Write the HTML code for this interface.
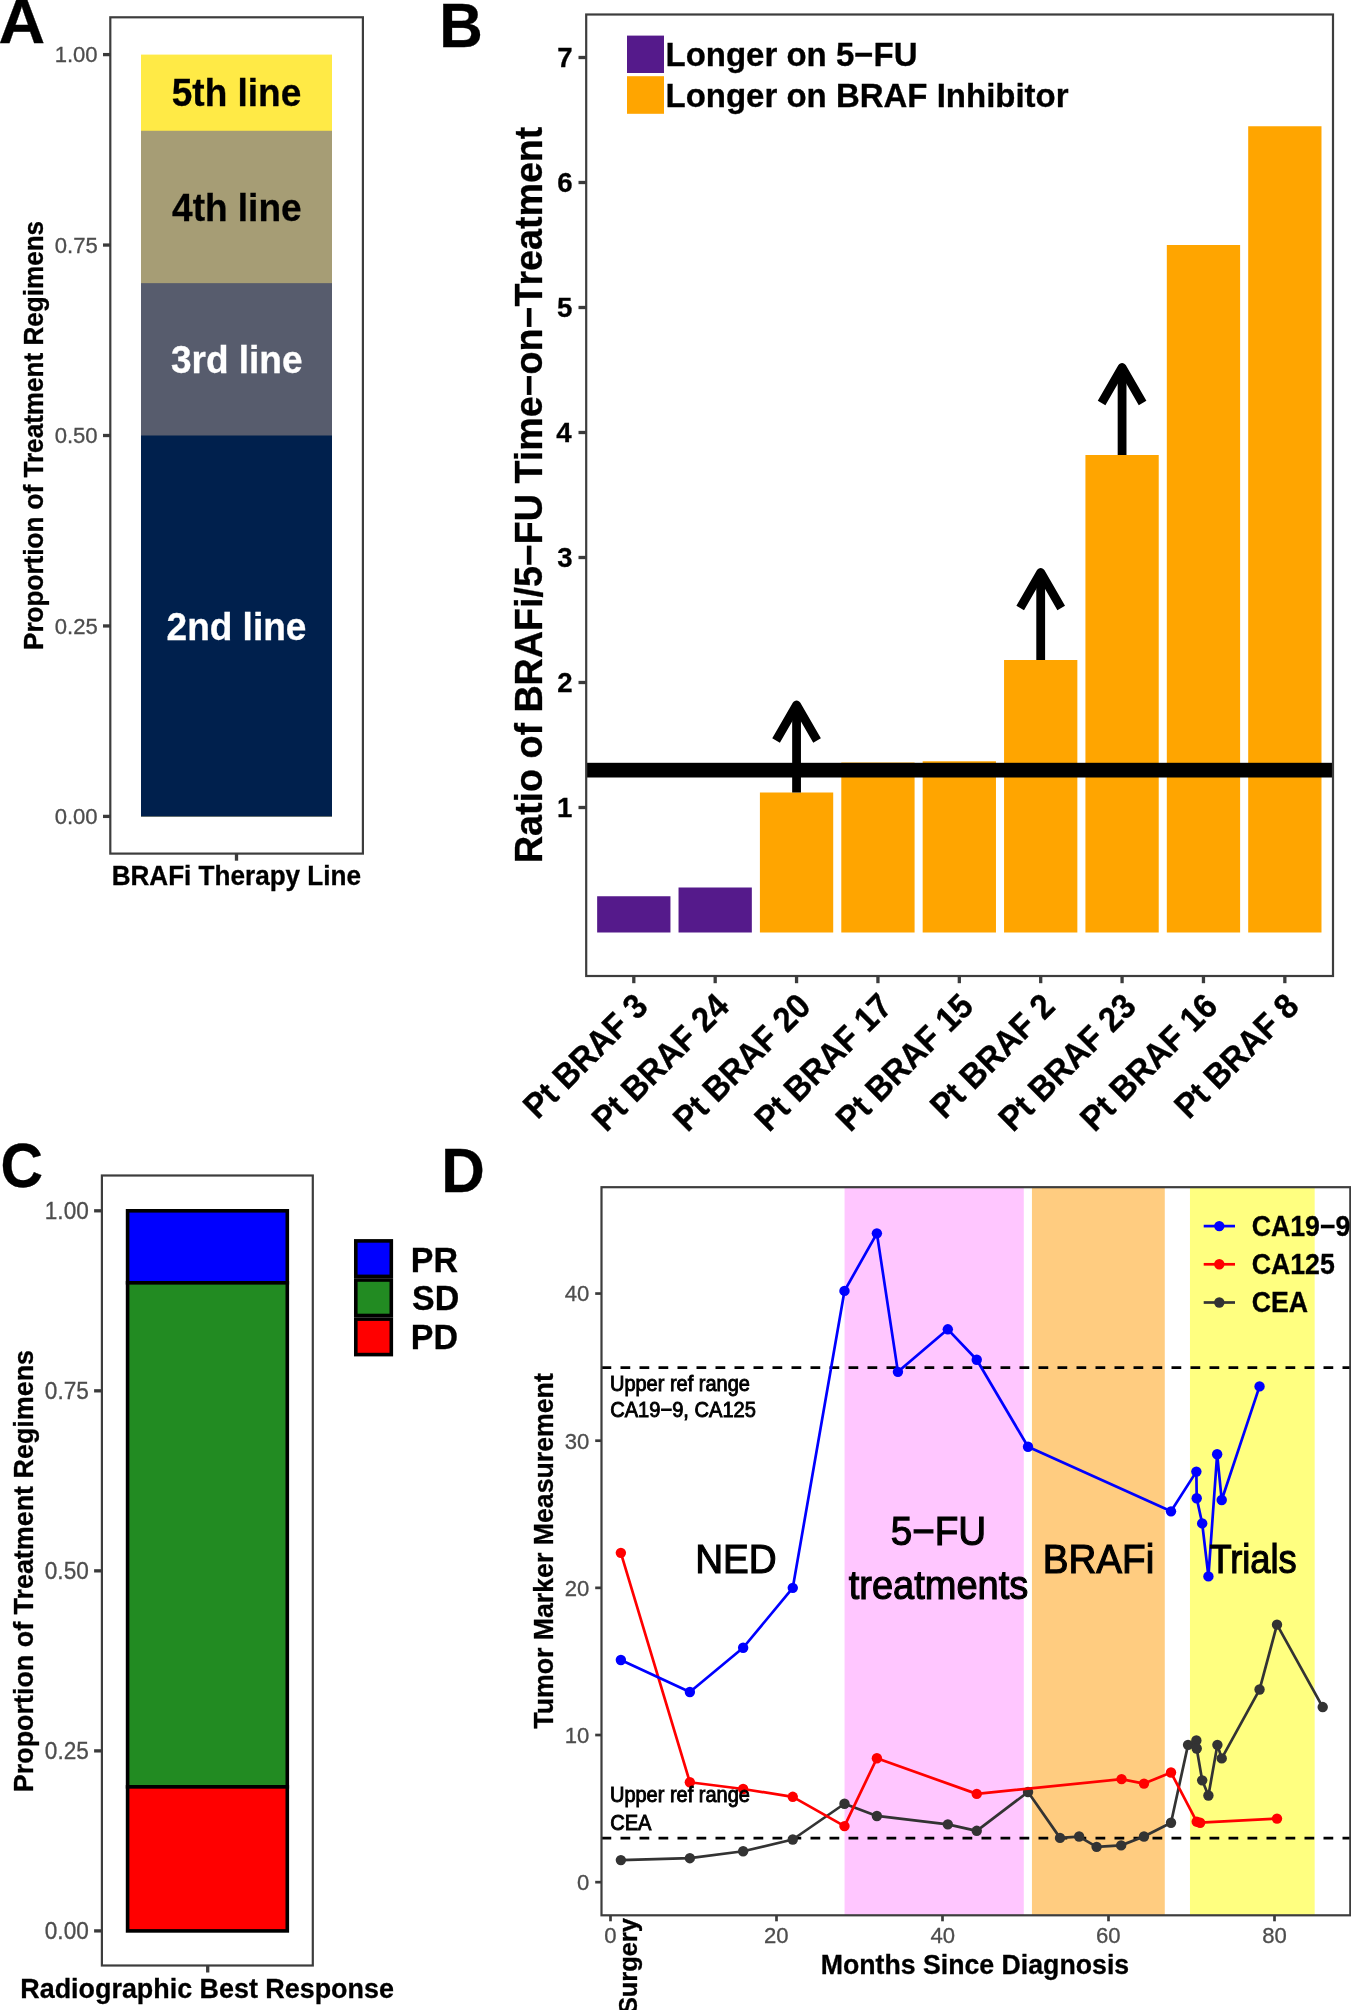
<!DOCTYPE html>
<html><head><meta charset="utf-8"><style>
html,body{margin:0;padding:0;background:#fff;width:1351px;height:2010px;overflow:hidden}
svg{display:block;font-family:"Liberation Sans",sans-serif;will-change:transform}
</style></head><body>
<svg width="1351" height="2010" viewBox="0 0 1351 2010">
<rect x="0" y="0" width="1351" height="2010" fill="#fff"/>
<text transform="translate(-1.61,42.90) scale(1.0700,1.0460)" font-size="60.30" font-weight="bold" text-anchor="start" fill="#000" stroke="#000" stroke-width="0.3">A</text>
<rect x="141.00" y="54.60" width="191.00" height="761.80" fill="#FFEA46"/>
<rect x="141.00" y="130.78" width="191.00" height="685.62" fill="#A69D75"/>
<rect x="141.00" y="283.14" width="191.00" height="533.26" fill="#575C6D"/>
<rect x="141.00" y="435.50" width="191.00" height="380.90" fill="#00204D"/>
<rect x="110.3" y="17.3" width="252.6" height="836.3" fill="none" stroke="#3d3d3d" stroke-width="2.20"/>
<line x1="103.00" y1="816.40" x2="110.30" y2="816.40" stroke="#3b3b3b" stroke-width="3.30"/>
<text transform="translate(54.65,824.25) scale(1.0000,1.0400)" font-size="22.10" text-anchor="start" fill="#4D4D4D" stroke="#4D4D4D" stroke-width="0.3">0.00</text>
<line x1="103.00" y1="625.95" x2="110.30" y2="625.95" stroke="#3b3b3b" stroke-width="3.30"/>
<text transform="translate(54.72,633.80) scale(1.0000,1.0400)" font-size="22.10" text-anchor="start" fill="#4D4D4D" stroke="#4D4D4D" stroke-width="0.3">0.25</text>
<line x1="103.00" y1="435.50" x2="110.30" y2="435.50" stroke="#3b3b3b" stroke-width="3.30"/>
<text transform="translate(54.65,443.35) scale(1.0000,1.0400)" font-size="22.10" text-anchor="start" fill="#4D4D4D" stroke="#4D4D4D" stroke-width="0.3">0.50</text>
<line x1="103.00" y1="245.05" x2="110.30" y2="245.05" stroke="#3b3b3b" stroke-width="3.30"/>
<text transform="translate(54.72,252.90) scale(1.0000,1.0400)" font-size="22.10" text-anchor="start" fill="#4D4D4D" stroke="#4D4D4D" stroke-width="0.3">0.75</text>
<line x1="103.00" y1="54.60" x2="110.30" y2="54.60" stroke="#3b3b3b" stroke-width="3.30"/>
<text transform="translate(54.65,62.45) scale(1.0000,1.0400)" font-size="22.10" text-anchor="start" fill="#4D4D4D" stroke="#4D4D4D" stroke-width="0.3">1.00</text>
<line x1="236.50" y1="853.60" x2="236.50" y2="860.70" stroke="#3b3b3b" stroke-width="3.30"/>
<text transform="translate(171.80,106.40) scale(1.0000,1.0300)" font-size="37.00" font-weight="bold" text-anchor="start" fill="#000" stroke="#000" stroke-width="0.3">5th line</text>
<text transform="translate(172.09,220.67) scale(1.0000,1.0300)" font-size="37.00" font-weight="bold" text-anchor="start" fill="#000" stroke="#000" stroke-width="0.3">4th line</text>
<text transform="translate(170.91,373.03) scale(1.0000,1.0300)" font-size="37.00" font-weight="bold" text-anchor="start" fill="#fff" stroke="#fff" stroke-width="0.3">3rd line</text>
<text transform="translate(166.59,639.66) scale(1.0000,1.0300)" font-size="37.00" font-weight="bold" text-anchor="start" fill="#fff" stroke="#fff" stroke-width="0.3">2nd line</text>
<text transform="translate(111.66,885.00) scale(1.0000,1.0300)" font-size="26.10" font-weight="bold" text-anchor="start" fill="#000" stroke="#000" stroke-width="0.3">BRAFi Therapy Line</text>
<text transform="translate(43.00,649.98) rotate(-90.00) scale(1.0000,1.0300)" font-size="26.10" font-weight="bold" text-anchor="start" fill="#000" stroke="#000" stroke-width="0.3">Proportion of Treatment Regimens</text>
<text transform="translate(439.37,46.60) scale(1.0000,1.0460)" font-size="60.30" font-weight="bold" text-anchor="start" fill="#000" stroke="#000" stroke-width="0.3">B</text>
<rect x="597.15" y="896.25" width="73.30" height="36.25" fill="#551A8B"/>
<rect x="678.53" y="887.50" width="73.30" height="45.00" fill="#551A8B"/>
<rect x="759.91" y="792.50" width="73.30" height="140.00" fill="#FFA500"/>
<rect x="841.29" y="762.50" width="73.30" height="170.00" fill="#FFA500"/>
<rect x="922.67" y="761.25" width="73.30" height="171.25" fill="#FFA500"/>
<rect x="1004.05" y="660.00" width="73.30" height="272.50" fill="#FFA500"/>
<rect x="1085.43" y="455.00" width="73.30" height="477.50" fill="#FFA500"/>
<rect x="1166.81" y="245.00" width="73.30" height="687.50" fill="#FFA500"/>
<rect x="1248.19" y="126.25" width="73.30" height="806.25" fill="#FFA500"/>
<rect x="587.00" y="762.80" width="745.50" height="14.70" fill="#000"/>
<path d="M796.56 792.50 L796.56 705.00" stroke="#000" stroke-width="8.8" fill="none"/>
<path d="M776.06 740.51 L796.56 705.00 L817.06 740.51" stroke="#000" stroke-width="8.8" fill="none" stroke-linejoin="round" stroke-linecap="butt"/>
<path d="M1040.70 660.00 L1040.70 572.50" stroke="#000" stroke-width="8.8" fill="none"/>
<path d="M1020.20 608.01 L1040.70 572.50 L1061.20 608.01" stroke="#000" stroke-width="8.8" fill="none" stroke-linejoin="round" stroke-linecap="butt"/>
<path d="M1122.08 455.00 L1122.08 367.50" stroke="#000" stroke-width="8.8" fill="none"/>
<path d="M1101.58 403.01 L1122.08 367.50 L1142.58 403.01" stroke="#000" stroke-width="8.8" fill="none" stroke-linejoin="round" stroke-linecap="butt"/>
<rect x="586.2" y="14.5" width="746.8" height="961.5" fill="none" stroke="#3d3d3d" stroke-width="2.20"/>
<line x1="578.50" y1="807.50" x2="586.30" y2="807.50" stroke="#3b3b3b" stroke-width="3.30"/>
<text transform="translate(556.92,817.10) scale(1.0000,1.0300)" font-size="27.60" font-weight="bold" text-anchor="start" fill="#000" stroke="#000" stroke-width="0.3">1</text>
<line x1="578.50" y1="682.50" x2="586.30" y2="682.50" stroke="#3b3b3b" stroke-width="3.30"/>
<text transform="translate(557.26,692.10) scale(1.0000,1.0300)" font-size="27.60" font-weight="bold" text-anchor="start" fill="#000" stroke="#000" stroke-width="0.3">2</text>
<line x1="578.50" y1="557.50" x2="586.30" y2="557.50" stroke="#3b3b3b" stroke-width="3.30"/>
<text transform="translate(557.15,567.10) scale(1.0000,1.0300)" font-size="27.60" font-weight="bold" text-anchor="start" fill="#000" stroke="#000" stroke-width="0.3">3</text>
<line x1="578.50" y1="432.50" x2="586.30" y2="432.50" stroke="#3b3b3b" stroke-width="3.30"/>
<text transform="translate(556.30,442.10) scale(1.0000,1.0300)" font-size="27.60" font-weight="bold" text-anchor="start" fill="#000" stroke="#000" stroke-width="0.3">4</text>
<line x1="578.50" y1="307.50" x2="586.30" y2="307.50" stroke="#3b3b3b" stroke-width="3.30"/>
<text transform="translate(556.92,317.10) scale(1.0000,1.0300)" font-size="27.60" font-weight="bold" text-anchor="start" fill="#000" stroke="#000" stroke-width="0.3">5</text>
<line x1="578.50" y1="182.50" x2="586.30" y2="182.50" stroke="#3b3b3b" stroke-width="3.30"/>
<text transform="translate(557.15,192.10) scale(1.0000,1.0300)" font-size="27.60" font-weight="bold" text-anchor="start" fill="#000" stroke="#000" stroke-width="0.3">6</text>
<line x1="578.50" y1="57.50" x2="586.30" y2="57.50" stroke="#3b3b3b" stroke-width="3.30"/>
<text transform="translate(557.36,67.10) scale(1.0000,1.0300)" font-size="27.60" font-weight="bold" text-anchor="start" fill="#000" stroke="#000" stroke-width="0.3">7</text>
<line x1="633.80" y1="976.00" x2="633.80" y2="983.20" stroke="#3b3b3b" stroke-width="3.30"/>
<line x1="715.18" y1="976.00" x2="715.18" y2="983.20" stroke="#3b3b3b" stroke-width="3.30"/>
<line x1="796.56" y1="976.00" x2="796.56" y2="983.20" stroke="#3b3b3b" stroke-width="3.30"/>
<line x1="877.94" y1="976.00" x2="877.94" y2="983.20" stroke="#3b3b3b" stroke-width="3.30"/>
<line x1="959.32" y1="976.00" x2="959.32" y2="983.20" stroke="#3b3b3b" stroke-width="3.30"/>
<line x1="1040.70" y1="976.00" x2="1040.70" y2="983.20" stroke="#3b3b3b" stroke-width="3.30"/>
<line x1="1122.08" y1="976.00" x2="1122.08" y2="983.20" stroke="#3b3b3b" stroke-width="3.30"/>
<line x1="1203.46" y1="976.00" x2="1203.46" y2="983.20" stroke="#3b3b3b" stroke-width="3.30"/>
<line x1="1284.84" y1="976.00" x2="1284.84" y2="983.20" stroke="#3b3b3b" stroke-width="3.30"/>
<rect x="627.00" y="35.60" width="37.00" height="37.40" fill="#551A8B"/>
<rect x="627.00" y="76.20" width="37.00" height="37.60" fill="#FFA500"/>
<text transform="translate(665.49,66.30) scale(1.0000,1.0300)" font-size="33.00" font-weight="bold" text-anchor="start" fill="#000" stroke="#000" stroke-width="0.3">Longer on 5−FU</text>
<text transform="translate(665.49,106.50) scale(1.0000,1.0300)" font-size="33.00" font-weight="bold" text-anchor="start" fill="#000" stroke="#000" stroke-width="0.3">Longer on BRAF Inhibitor</text>
<text transform="translate(541.70,863.08) rotate(-90.00) scale(1.0000,1.0300)" font-size="37.65" font-weight="bold" text-anchor="start" fill="#000" stroke="#000" stroke-width="0.3">Ratio of BRAFi/5−FU Time−on−Treatment</text>
<text transform="translate(649.75,1008.15) rotate(-45) scale(1,1.070)" font-size="32.45" font-weight="bold" text-anchor="end" fill="#000" stroke="#000" stroke-width="0.35">Pt BRAF 3</text>
<text transform="translate(731.13,1008.15) rotate(-45) scale(1,1.070)" font-size="32.45" font-weight="bold" text-anchor="end" fill="#000" stroke="#000" stroke-width="0.35">Pt BRAF 24</text>
<text transform="translate(812.51,1008.15) rotate(-45) scale(1,1.070)" font-size="32.45" font-weight="bold" text-anchor="end" fill="#000" stroke="#000" stroke-width="0.35">Pt BRAF 20</text>
<text transform="translate(893.89,1008.15) rotate(-45) scale(1,1.070)" font-size="32.45" font-weight="bold" text-anchor="end" fill="#000" stroke="#000" stroke-width="0.35">Pt BRAF 17</text>
<text transform="translate(975.27,1008.15) rotate(-45) scale(1,1.070)" font-size="32.45" font-weight="bold" text-anchor="end" fill="#000" stroke="#000" stroke-width="0.35">Pt BRAF 15</text>
<text transform="translate(1056.65,1008.15) rotate(-45) scale(1,1.070)" font-size="32.45" font-weight="bold" text-anchor="end" fill="#000" stroke="#000" stroke-width="0.35">Pt BRAF 2</text>
<text transform="translate(1138.03,1008.15) rotate(-45) scale(1,1.070)" font-size="32.45" font-weight="bold" text-anchor="end" fill="#000" stroke="#000" stroke-width="0.35">Pt BRAF 23</text>
<text transform="translate(1219.41,1008.15) rotate(-45) scale(1,1.070)" font-size="32.45" font-weight="bold" text-anchor="end" fill="#000" stroke="#000" stroke-width="0.35">Pt BRAF 16</text>
<text transform="translate(1300.79,1008.15) rotate(-45) scale(1,1.070)" font-size="32.45" font-weight="bold" text-anchor="end" fill="#000" stroke="#000" stroke-width="0.35">Pt BRAF 8</text>
<text transform="translate(0.44,1186.90) scale(0.9750,1.0460)" font-size="60.30" font-weight="bold" text-anchor="start" fill="#000" stroke="#000" stroke-width="0.3">C</text>
<rect x="101.9" y="1175.5" width="210.9" height="790.0" fill="none" stroke="#3d3d3d" stroke-width="2.20"/>
<rect x="127.60" y="1210.80" width="159.70" height="72.01" fill="#0000FF" stroke="#000" stroke-width="3.60"/>
<rect x="127.60" y="1282.81" width="159.70" height="504.07" fill="#228B22" stroke="#000" stroke-width="3.60"/>
<rect x="127.60" y="1786.88" width="159.70" height="144.02" fill="#FF0000" stroke="#000" stroke-width="3.60"/>
<line x1="94.10" y1="1930.90" x2="101.90" y2="1930.90" stroke="#3b3b3b" stroke-width="3.30"/>
<text transform="translate(44.80,1938.85) scale(1.0000,1.0400)" font-size="22.60" text-anchor="start" fill="#4D4D4D" stroke="#4D4D4D" stroke-width="0.3">0.00</text>
<line x1="94.10" y1="1750.88" x2="101.90" y2="1750.88" stroke="#3b3b3b" stroke-width="3.30"/>
<text transform="translate(44.86,1758.83) scale(1.0000,1.0400)" font-size="22.60" text-anchor="start" fill="#4D4D4D" stroke="#4D4D4D" stroke-width="0.3">0.25</text>
<line x1="94.10" y1="1570.85" x2="101.90" y2="1570.85" stroke="#3b3b3b" stroke-width="3.30"/>
<text transform="translate(44.80,1578.80) scale(1.0000,1.0400)" font-size="22.60" text-anchor="start" fill="#4D4D4D" stroke="#4D4D4D" stroke-width="0.3">0.50</text>
<line x1="94.10" y1="1390.83" x2="101.90" y2="1390.83" stroke="#3b3b3b" stroke-width="3.30"/>
<text transform="translate(44.86,1398.78) scale(1.0000,1.0400)" font-size="22.60" text-anchor="start" fill="#4D4D4D" stroke="#4D4D4D" stroke-width="0.3">0.75</text>
<line x1="94.10" y1="1210.80" x2="101.90" y2="1210.80" stroke="#3b3b3b" stroke-width="3.30"/>
<text transform="translate(44.80,1218.75) scale(1.0000,1.0400)" font-size="22.60" text-anchor="start" fill="#4D4D4D" stroke="#4D4D4D" stroke-width="0.3">1.00</text>
<line x1="207.70" y1="1965.50" x2="207.70" y2="1972.50" stroke="#3b3b3b" stroke-width="3.30"/>
<text transform="translate(20.31,1997.90) scale(1.0000,1.0300)" font-size="26.90" font-weight="bold" text-anchor="start" fill="#000" stroke="#000" stroke-width="0.3">Radiographic Best Response</text>
<text transform="translate(32.90,1792.19) rotate(-90.00) scale(1.0000,1.0300)" font-size="26.90" font-weight="bold" text-anchor="start" fill="#000" stroke="#000" stroke-width="0.3">Proportion of Treatment Regimens</text>
<rect x="355.80" y="1240.90" width="35.50" height="35.50" fill="#0000FF" stroke="#000" stroke-width="3.60"/>
<text transform="translate(410.73,1271.60) scale(1.0000,1.0400)" font-size="34.00" font-weight="bold" text-anchor="start" fill="#000" stroke="#000" stroke-width="0.3">PR</text>
<rect x="355.80" y="1280.00" width="35.50" height="35.50" fill="#228B22" stroke="#000" stroke-width="3.60"/>
<text transform="translate(412.02,1310.10) scale(1.0000,1.0400)" font-size="34.00" font-weight="bold" text-anchor="start" fill="#000" stroke="#000" stroke-width="0.3">SD</text>
<rect x="355.80" y="1319.10" width="35.50" height="35.50" fill="#FF0000" stroke="#000" stroke-width="3.60"/>
<text transform="translate(410.73,1348.60) scale(1.0000,1.0400)" font-size="34.00" font-weight="bold" text-anchor="start" fill="#000" stroke="#000" stroke-width="0.3">PD</text>
<text transform="translate(441.17,1192.20) scale(1.0000,1.0460)" font-size="60.30" font-weight="bold" text-anchor="start" fill="#000" stroke="#000" stroke-width="0.3">D</text>
<rect x="844.56" y="1187.20" width="179.23" height="728.10" fill="#FFC6FF"/>
<rect x="1031.94" y="1187.20" width="132.84" height="728.10" fill="#FFCC80"/>
<rect x="1189.97" y="1187.20" width="124.70" height="728.10" fill="#FFFF80"/>
<line x1="601.50" y1="1367.63" x2="1350.30" y2="1367.63" stroke="#000" stroke-width="2.70" stroke-dasharray="9.75,9.25"/>
<line x1="601.50" y1="1838.12" x2="1350.30" y2="1838.12" stroke="#000" stroke-width="2.70" stroke-dasharray="9.75,9.25"/>
<path d="M620.86 1860.10 L689.86 1858.18 L743.14 1851.27 L792.77 1839.50 L844.48 1803.74 L876.90 1815.95 L947.81 1824.34 L976.74 1830.81 L1028.03 1791.96 L1060.03 1837.88 L1079.15 1836.55 L1096.61 1846.85 L1121.13 1845.38 L1143.99 1836.55 L1171.01 1822.72 L1188.05 1744.87 L1196.37 1740.46 L1196.70 1748.55 L1202.19 1780.34 L1208.42 1795.50 L1217.40 1744.87 L1221.72 1758.41 L1259.55 1689.54 L1277.00 1624.65 L1322.72 1707.06" stroke="#333333" stroke-width="2.7" fill="none" stroke-linejoin="round"/>
<circle cx="620.86" cy="1860.10" r="5.2" fill="#333333"/>
<circle cx="689.86" cy="1858.18" r="5.2" fill="#333333"/>
<circle cx="743.14" cy="1851.27" r="5.2" fill="#333333"/>
<circle cx="792.77" cy="1839.50" r="5.2" fill="#333333"/>
<circle cx="844.48" cy="1803.74" r="5.2" fill="#333333"/>
<circle cx="876.90" cy="1815.95" r="5.2" fill="#333333"/>
<circle cx="947.81" cy="1824.34" r="5.2" fill="#333333"/>
<circle cx="976.74" cy="1830.81" r="5.2" fill="#333333"/>
<circle cx="1028.03" cy="1791.96" r="5.2" fill="#333333"/>
<circle cx="1060.03" cy="1837.88" r="5.2" fill="#333333"/>
<circle cx="1079.15" cy="1836.55" r="5.2" fill="#333333"/>
<circle cx="1096.61" cy="1846.85" r="5.2" fill="#333333"/>
<circle cx="1121.13" cy="1845.38" r="5.2" fill="#333333"/>
<circle cx="1143.99" cy="1836.55" r="5.2" fill="#333333"/>
<circle cx="1171.01" cy="1822.72" r="5.2" fill="#333333"/>
<circle cx="1188.05" cy="1744.87" r="5.2" fill="#333333"/>
<circle cx="1196.37" cy="1740.46" r="5.2" fill="#333333"/>
<circle cx="1196.70" cy="1748.55" r="5.2" fill="#333333"/>
<circle cx="1202.19" cy="1780.34" r="5.2" fill="#333333"/>
<circle cx="1208.42" cy="1795.50" r="5.2" fill="#333333"/>
<circle cx="1217.40" cy="1744.87" r="5.2" fill="#333333"/>
<circle cx="1221.72" cy="1758.41" r="5.2" fill="#333333"/>
<circle cx="1259.55" cy="1689.54" r="5.2" fill="#333333"/>
<circle cx="1277.00" cy="1624.65" r="5.2" fill="#333333"/>
<circle cx="1322.72" cy="1707.06" r="5.2" fill="#333333"/>
<path d="M620.86 1552.84 L689.86 1782.25 L743.14 1789.02 L792.77 1796.82 L844.48 1826.10 L876.90 1758.27 L976.74 1793.88 L1121.55 1779.16 L1143.99 1783.58 L1171.01 1772.54 L1196.70 1821.69 L1200.11 1822.72 L1277.00 1818.60" stroke="#FF0000" stroke-width="2.7" fill="none" stroke-linejoin="round"/>
<circle cx="620.86" cy="1552.84" r="5.2" fill="#FF0000"/>
<circle cx="689.86" cy="1782.25" r="5.2" fill="#FF0000"/>
<circle cx="743.14" cy="1789.02" r="5.2" fill="#FF0000"/>
<circle cx="792.77" cy="1796.82" r="5.2" fill="#FF0000"/>
<circle cx="844.48" cy="1826.10" r="5.2" fill="#FF0000"/>
<circle cx="876.90" cy="1758.27" r="5.2" fill="#FF0000"/>
<circle cx="976.74" cy="1793.88" r="5.2" fill="#FF0000"/>
<circle cx="1121.55" cy="1779.16" r="5.2" fill="#FF0000"/>
<circle cx="1143.99" cy="1783.58" r="5.2" fill="#FF0000"/>
<circle cx="1171.01" cy="1772.54" r="5.2" fill="#FF0000"/>
<circle cx="1196.70" cy="1821.69" r="5.2" fill="#FF0000"/>
<circle cx="1200.11" cy="1822.72" r="5.2" fill="#FF0000"/>
<circle cx="1277.00" cy="1818.60" r="5.2" fill="#FF0000"/>
<path d="M620.86 1659.97 L689.86 1692.05 L743.14 1647.75 L792.77 1587.86 L844.48 1290.90 L876.90 1233.36 L897.93 1371.84 L947.81 1329.31 L976.74 1359.77 L1028.03 1446.74 L1171.01 1511.34 L1196.37 1471.61 L1196.70 1498.24 L1202.19 1523.41 L1208.42 1576.38 L1217.15 1454.24 L1221.72 1500.01 L1259.55 1386.40" stroke="#0000FF" stroke-width="2.7" fill="none" stroke-linejoin="round"/>
<circle cx="620.86" cy="1659.97" r="5.2" fill="#0000FF"/>
<circle cx="689.86" cy="1692.05" r="5.2" fill="#0000FF"/>
<circle cx="743.14" cy="1647.75" r="5.2" fill="#0000FF"/>
<circle cx="792.77" cy="1587.86" r="5.2" fill="#0000FF"/>
<circle cx="844.48" cy="1290.90" r="5.2" fill="#0000FF"/>
<circle cx="876.90" cy="1233.36" r="5.2" fill="#0000FF"/>
<circle cx="897.93" cy="1371.84" r="5.2" fill="#0000FF"/>
<circle cx="947.81" cy="1329.31" r="5.2" fill="#0000FF"/>
<circle cx="976.74" cy="1359.77" r="5.2" fill="#0000FF"/>
<circle cx="1028.03" cy="1446.74" r="5.2" fill="#0000FF"/>
<circle cx="1171.01" cy="1511.34" r="5.2" fill="#0000FF"/>
<circle cx="1196.37" cy="1471.61" r="5.2" fill="#0000FF"/>
<circle cx="1196.70" cy="1498.24" r="5.2" fill="#0000FF"/>
<circle cx="1202.19" cy="1523.41" r="5.2" fill="#0000FF"/>
<circle cx="1208.42" cy="1576.38" r="5.2" fill="#0000FF"/>
<circle cx="1217.15" cy="1454.24" r="5.2" fill="#0000FF"/>
<circle cx="1221.72" cy="1500.01" r="5.2" fill="#0000FF"/>
<circle cx="1259.55" cy="1386.40" r="5.2" fill="#0000FF"/>
<text transform="translate(609.96,1391.10) scale(1.0000,1.0600)" font-size="20.00" text-anchor="start" fill="#000" stroke="#000" stroke-width="0.85">Upper ref range</text>
<text transform="translate(610.18,1417.40) scale(1.0000,1.0600)" font-size="20.10" text-anchor="start" fill="#000" stroke="#000" stroke-width="0.85">CA19−9, CA125</text>
<text transform="translate(609.96,1802.30) scale(1.0000,1.0600)" font-size="20.00" text-anchor="start" fill="#000" stroke="#000" stroke-width="0.85">Upper ref range</text>
<text transform="translate(610.18,1830.00) scale(1.0000,1.0600)" font-size="20.10" text-anchor="start" fill="#000" stroke="#000" stroke-width="0.85">CEA</text>
<text transform="translate(695.19,1572.80) scale(1.0000,1.0600)" font-size="38.60" text-anchor="start" fill="#000" stroke="#000" stroke-width="1.1">NED</text>
<text transform="translate(890.78,1544.60) scale(1.0000,1.0600)" font-size="38.60" text-anchor="start" fill="#000" stroke="#000" stroke-width="1.1">5−FU</text>
<text transform="translate(848.69,1599.20) scale(0.9850,1.0600)" font-size="38.60" text-anchor="start" fill="#000" stroke="#000" stroke-width="1.1">treatments</text>
<text transform="translate(1042.76,1572.90) scale(1.0000,1.0600)" font-size="38.60" text-anchor="start" fill="#000" stroke="#000" stroke-width="1.1">BRAFi</text>
<text transform="translate(1209.40,1573.00) scale(0.9400,1.0600)" font-size="38.60" text-anchor="start" fill="#000" stroke="#000" stroke-width="1.1">Trials</text>
<rect x="601.50" y="1187.20" width="748.80" height="728.10" fill="none" stroke="#3d3d3d" stroke-width="2.20"/>
<line x1="595.20" y1="1882.17" x2="601.50" y2="1882.17" stroke="#3b3b3b" stroke-width="2.70"/>
<text transform="translate(577.07,1890.02) scale(1.0000,1.0400)" font-size="22.10" text-anchor="start" fill="#4D4D4D" stroke="#4D4D4D" stroke-width="0.3">0</text>
<line x1="595.20" y1="1735.02" x2="601.50" y2="1735.02" stroke="#3b3b3b" stroke-width="2.70"/>
<text transform="translate(564.78,1742.87) scale(1.0000,1.0400)" font-size="22.10" text-anchor="start" fill="#4D4D4D" stroke="#4D4D4D" stroke-width="0.3">10</text>
<line x1="595.20" y1="1587.86" x2="601.50" y2="1587.86" stroke="#3b3b3b" stroke-width="2.70"/>
<text transform="translate(564.78,1595.71) scale(1.0000,1.0400)" font-size="22.10" text-anchor="start" fill="#4D4D4D" stroke="#4D4D4D" stroke-width="0.3">20</text>
<line x1="595.20" y1="1440.70" x2="601.50" y2="1440.70" stroke="#3b3b3b" stroke-width="2.70"/>
<text transform="translate(564.78,1448.55) scale(1.0000,1.0400)" font-size="22.10" text-anchor="start" fill="#4D4D4D" stroke="#4D4D4D" stroke-width="0.3">30</text>
<line x1="595.20" y1="1293.55" x2="601.50" y2="1293.55" stroke="#3b3b3b" stroke-width="2.70"/>
<text transform="translate(564.78,1301.40) scale(1.0000,1.0400)" font-size="22.10" text-anchor="start" fill="#4D4D4D" stroke="#4D4D4D" stroke-width="0.3">40</text>
<line x1="610.50" y1="1915.30" x2="610.50" y2="1921.30" stroke="#3b3b3b" stroke-width="2.70"/>
<text transform="translate(604.35,1943.00) scale(1.0000,1.0400)" font-size="22.10" text-anchor="start" fill="#4D4D4D" stroke="#4D4D4D" stroke-width="0.3">0</text>
<line x1="776.50" y1="1915.30" x2="776.50" y2="1921.30" stroke="#3b3b3b" stroke-width="2.70"/>
<text transform="translate(764.08,1943.00) scale(1.0000,1.0400)" font-size="22.10" text-anchor="start" fill="#4D4D4D" stroke="#4D4D4D" stroke-width="0.3">20</text>
<line x1="942.50" y1="1915.30" x2="942.50" y2="1921.30" stroke="#3b3b3b" stroke-width="2.70"/>
<text transform="translate(930.39,1943.00) scale(1.0000,1.0400)" font-size="22.10" text-anchor="start" fill="#4D4D4D" stroke="#4D4D4D" stroke-width="0.3">40</text>
<line x1="1108.50" y1="1915.30" x2="1108.50" y2="1921.30" stroke="#3b3b3b" stroke-width="2.70"/>
<text transform="translate(1096.08,1943.00) scale(1.0000,1.0400)" font-size="22.10" text-anchor="start" fill="#4D4D4D" stroke="#4D4D4D" stroke-width="0.3">60</text>
<line x1="1274.50" y1="1915.30" x2="1274.50" y2="1921.30" stroke="#3b3b3b" stroke-width="2.70"/>
<text transform="translate(1262.16,1943.00) scale(1.0000,1.0400)" font-size="22.10" text-anchor="start" fill="#4D4D4D" stroke="#4D4D4D" stroke-width="0.3">80</text>
<text transform="translate(820.67,1973.80) scale(1.0000,1.0300)" font-size="26.70" font-weight="bold" text-anchor="start" fill="#000" stroke="#000" stroke-width="0.3">Months Since Diagnosis</text>
<text transform="translate(552.75,1728.68) rotate(-90.00) scale(1.0000,1.0300)" font-size="26.70" font-weight="bold" text-anchor="start" fill="#000" stroke="#000" stroke-width="0.3">Tumor Marker Measurement</text>
<text transform="translate(637.30,2014.06) rotate(-90.00) scale(1.0000,1.0300)" font-size="25.40" font-weight="bold" text-anchor="start" fill="#000" stroke="#000" stroke-width="0.3">Surgery</text>
<line x1="1203.70" y1="1226.10" x2="1235.00" y2="1226.10" stroke="#0000FF" stroke-width="2.70"/>
<circle cx="1219.3" cy="1226.10" r="5.2" fill="#0000FF"/>
<text transform="translate(1251.70,1235.60) scale(1.0000,1.0700)" font-size="26.70" font-weight="bold" text-anchor="start" fill="#000" stroke="#000" stroke-width="0.3">CA19−9</text>
<line x1="1203.70" y1="1264.30" x2="1235.00" y2="1264.30" stroke="#FF0000" stroke-width="2.70"/>
<circle cx="1219.3" cy="1264.30" r="5.2" fill="#FF0000"/>
<text transform="translate(1251.70,1273.80) scale(1.0000,1.0700)" font-size="26.70" font-weight="bold" text-anchor="start" fill="#000" stroke="#000" stroke-width="0.3">CA125</text>
<line x1="1203.70" y1="1302.50" x2="1235.00" y2="1302.50" stroke="#333333" stroke-width="2.70"/>
<circle cx="1219.3" cy="1302.50" r="5.2" fill="#333333"/>
<text transform="translate(1251.70,1312.00) scale(1.0000,1.0700)" font-size="26.70" font-weight="bold" text-anchor="start" fill="#000" stroke="#000" stroke-width="0.3">CEA</text>
</svg>
</body></html>
